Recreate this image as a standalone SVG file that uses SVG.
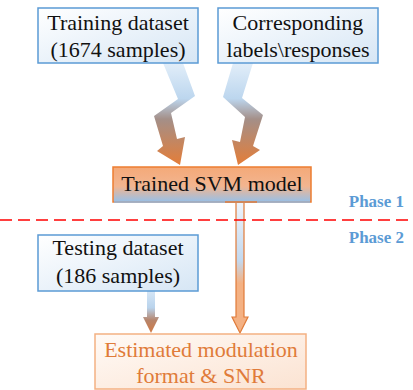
<svg xmlns="http://www.w3.org/2000/svg" width="413" height="390" viewBox="0 0 413 390">
<defs>
<style>
.t{font-family:'Liberation Serif',Tinos,'Times New Roman','DejaVu Serif',serif;font-size:22px;fill:#111;text-anchor:middle}
.ph{font-family:'Liberation Serif',Tinos,'Times New Roman','DejaVu Serif',serif;font-size:17px;font-weight:bold;fill:#5b9bd5;text-anchor:end}
.bbox{fill:url(#gBlueBox);stroke:#5b9bd5;stroke-width:1.5}
</style>
<linearGradient id="gBlueBox" x1="0" y1="0" x2="1" y2="1">
<stop offset="0" stop-color="#ffffff"/><stop offset="1" stop-color="#d6e6f5"/>
</linearGradient>
<linearGradient id="gBolt" gradientUnits="userSpaceOnUse" x1="0" y1="63" x2="0" y2="165">
<stop offset="0" stop-color="#e2eef9"/><stop offset="0.35" stop-color="#bcd6ee"/><stop offset="0.55" stop-color="#a48f88"/><stop offset="1" stop-color="#e47d38"/>
</linearGradient>
<linearGradient id="gSvm" x1="0" y1="0" x2="0" y2="1">
<stop offset="0" stop-color="#f4a978"/><stop offset="0.55" stop-color="#f2b590"/><stop offset="1" stop-color="#97c0e8"/>
</linearGradient>
<linearGradient id="gShaft" gradientUnits="userSpaceOnUse" x1="0" y1="202" x2="0" y2="333">
<stop offset="0" stop-color="#eef4fb"/><stop offset="0.45" stop-color="#c3d8ee"/><stop offset="0.62" stop-color="#f4b183"/><stop offset="1" stop-color="#f4b183"/>
</linearGradient>
<linearGradient id="gTest" gradientUnits="userSpaceOnUse" x1="0" y1="291" x2="0" y2="333">
<stop offset="0" stop-color="#d5e6f6"/><stop offset="0.4" stop-color="#b9d3ec"/><stop offset="0.7" stop-color="#b7846a"/><stop offset="1" stop-color="#d27a45"/>
</linearGradient>
<linearGradient id="gEst" x1="0" y1="0" x2="1" y2="1">
<stop offset="0" stop-color="#fffaf6"/><stop offset="1" stop-color="#fbe3d2"/>
</linearGradient>
</defs>

<g id="connectors">
<polygon points="163,63 183,63 195,96 171,113 177,139 185,137 180,165 157,151 163,146 154,116 178,99" fill="url(#gBolt)"/>
<polygon points="233,63 253,63 242,98 263,115 253,146 260,150 238,165 232,140 240,142 245,117 223,97" fill="url(#gBolt)"/>
<polygon points="236,202 244,202 244,317 248,317 240,333 232,317 236,317" fill="url(#gShaft)" stroke="#e07b39" stroke-width="1.2"/>
<polygon points="147,291 155,291 155,317 159,317 151,333 143,317 147,317" fill="url(#gTest)"/>
<line x1="0" y1="220" x2="413" y2="220" stroke="#ff0000" stroke-width="1.6" stroke-dasharray="12,6"/>
</g>

<g id="training">
<rect class="bbox" x="38" y="8" width="160" height="55"/>
<text class="t" x="118" y="30" font-family="Liberation Serif, serif">Training dataset</text>
<text class="t" x="118" y="57" font-family="Liberation Serif, serif">(1674 samples)</text>
</g>

<g id="labels">
<rect class="bbox" x="218" y="8" width="160" height="55"/>
<text class="t" x="298" y="30">Corresponding</text>
<text class="t" x="298" y="57">labels\responses</text>
</g>

<g id="svm">
<rect x="113" y="167" width="198" height="35" fill="url(#gSvm)" stroke="#ed7d31" stroke-width="1.5"/>
<line x1="114" y1="202" x2="310" y2="202" stroke="#8fb8e2" stroke-width="1.5"/>
<line x1="225" y1="202" x2="257" y2="202" stroke="#e07b39" stroke-width="1.5"/>
<text class="t" x="212" y="191">Trained SVM model</text>
</g>

<g id="phases">
<text class="ph" x="404" y="207">Phase 1</text>
<text class="ph" x="404" y="243">Phase 2</text>
</g>

<g id="testing">
<rect class="bbox" x="38" y="235" width="160" height="56"/>
<text class="t" x="118" y="255">Testing dataset</text>
<text class="t" x="118" y="283">(186 samples)</text>
</g>

<g id="estimated">
<rect x="95" y="334" width="211" height="55" fill="url(#gEst)" stroke="#f4b183" stroke-width="1.5"/>
<text class="t" x="201" y="357" style="fill:#e07b39">Estimated modulation</text>
<text class="t" x="201" y="383" style="fill:#e07b39">format &amp; SNR</text>
</g>
</svg>
